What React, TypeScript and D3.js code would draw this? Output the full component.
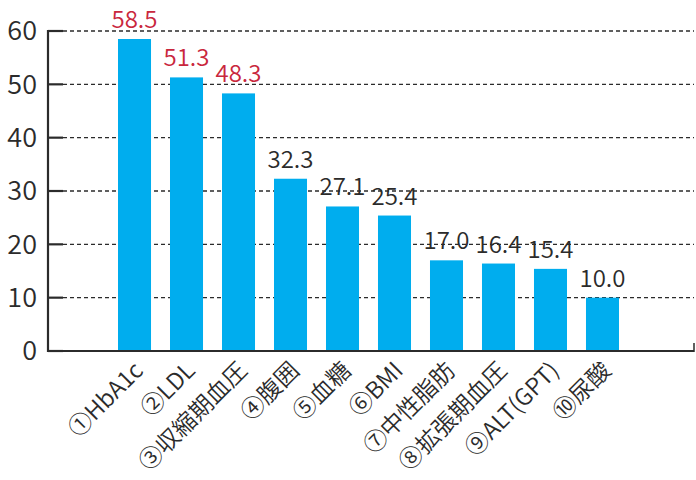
import React from "react";
import * as d3 from "d3";

const categories = ["①HbA1c", "②LDL", "③収縮期血圧", "④腹囲", "⑤血糖", "⑥BMI", "⑦中性脂肪", "⑧拡張期血圧", "⑨ALT(GPT)", "⑩尿酸"];
const values = [58.5, 51.3, 48.3, 32.3, 27.1, 25.4, 17.0, 16.4, 15.4, 10.0];
const highlighted = [true, true, true, false, false, false, false, false, false, false];
const yTicks = [0, 10, 20, 30, 40, 50, 60];

const W = 696;
const H = 480;
const axisX = 48;
const rightX = 694;
const baseY = 351;
const topY = 31;

export default function App() {
  const y = d3.scaleLinear().domain([0, 60]).range([baseY, topY]);
  const x = d3.scaleBand<string>().domain(categories).range([118, 619]).paddingInner(0.365).paddingOuter(0);
  const bw = x.bandwidth();
  const font = "'Noto Sans CJK JP', sans-serif";
  const dark = "#2b2b2b";
  return (
    <svg width={W} height={H} style={{ position: "absolute", left: 0, top: 0, background: "#fff" }}>
      {yTicks.filter((t) => t > 0).map((t) => (
        <line key={"g" + t} x1={63} x2={rightX} y1={y(t)} y2={y(t)} stroke={dark} strokeWidth={1.3} strokeDasharray="4,3" />
      ))}
      {categories.map((c, i) => (
        <rect key={"b" + c} x={x(c)} y={y(values[i])} width={bw} height={baseY - y(values[i])} fill="#00adee" />
      ))}
      {categories.map((c, i) => (
        <text key={"v" + c} x={(x(c) as number) + bw / 2} y={y(values[i]) - 11} textAnchor="middle" fontFamily={font} fontWeight={350} fontSize={24} fill={highlighted[i] ? "#c9273d" : "#2b2b2b"}>
          {values[i].toFixed(1)}
        </text>
      ))}
      <line x1={axisX} x2={axisX} y1={topY - 1} y2={baseY + 1} stroke={dark} strokeWidth={2.2} />
      <line x1={axisX - 1} x2={rightX} y1={baseY} y2={baseY} stroke={dark} strokeWidth={2.2} />
      <line x1={rightX} x2={rightX} y1={baseY - 8} y2={baseY + 1} stroke={dark} strokeWidth={1.5} />
      {yTicks.map((t) => (
        <g key={"t" + t}>
          <line x1={axisX} x2={63} y1={y(t)} y2={y(t)} stroke={dark} strokeWidth={2.2} />
          <text x={37} y={y(t)} dy="0.34em" textAnchor="end" fontFamily={font} fontWeight={350} fontSize={27} fill="#2b2b2b">
            {t}
          </text>
        </g>
      ))}
      {categories.map((c) => {
        const cx = (x(c) as number) + bw / 2 + 10;
        const cy = 372;
        return (
          <text key={"x" + c} x={cx} y={cy} transform={`rotate(-45 ${cx} ${cy})`} textAnchor="end" fontFamily={font} fontWeight={350} fontSize={23.5} fill="#2b2b2b">
            {c}
          </text>
        );
      })}
    </svg>
  );
}
